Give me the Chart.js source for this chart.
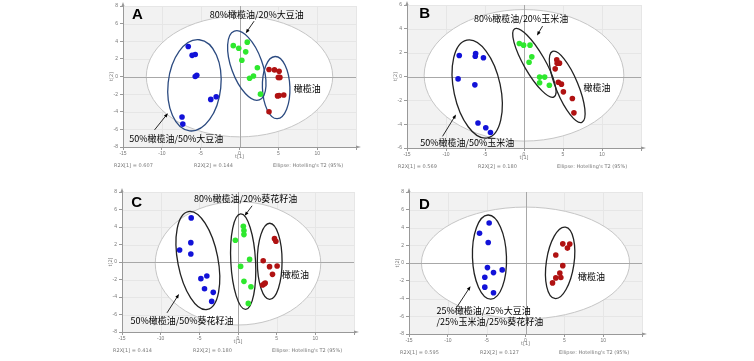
<!DOCTYPE html>
<html>
<head>
<meta charset="utf-8">
<script src="https://cdn.jsdelivr.net/npm/chart.js@4/dist/chart.umd.min.js"></script>
<style>
body { margin: 0; background: #fff; width: 754px; height: 361px; position: relative; overflow: hidden; }
canvas { position: absolute; }
</style>
</head>
<body>
<canvas id="chartA" width="271" height="172" style="left:97px;top:1px"></canvas>
<canvas id="chartB" width="272" height="174" style="left:381px;top:0px"></canvas>
<canvas id="chartC" width="270" height="171" style="left:96px;top:187px"></canvas>
<canvas id="chartD" width="271" height="173" style="left:383px;top:187px"></canvas>
<script>
/*------------------------------------------ scores (t[1], t[2]) ------------------------------------------*/
const aBlue = [[-6.6,3.4],[-6.1,2.4],[-5.7,2.5],[-5.7,0.0],[-5.5,0.15],[-3.7,-2.6],[-3.0,-2.3],[-7.4,-4.6],[-7.3,-5.4]]
const aGreen = [[-0.8,3.5],[-0.1,3.2],[1.0,3.9],[0.8,2.8],[0.3,1.85],[2.3,1.0],[1.8,0.05],[1.3,-0.2],[2.7,-2.0]]
const aRed = [[3.8,0.8],[4.5,0.75],[5.1,0.6],[5.0,-0.1],[5.2,-0.1],[4.9,-2.2],[5.1,-2.15],[5.7,-2.1],[3.8,-4.0]]

const bBlue = [[-8.3,1.76],[-6.2,1.93],[-6.25,1.7],[-5.2,1.57],[-8.45,-0.2],[-6.3,-0.7],[-5.9,-3.9],[-4.9,-4.3],[-4.3,-4.7]]
const bGreen = [[-0.6,2.77],[-0.05,2.63],[0.77,2.63],[1.0,1.65],[0.65,1.2],[2.0,-0.05],[2.65,-0.05],[2.0,-0.53],[3.25,-0.73]]
const bRed = [[4.2,1.4],[4.55,1.12],[4.25,1.12],[4.0,0.64],[4.4,-0.48],[4.8,-0.64],[5.05,-1.29],[6.2,-1.85],[6.4,-3.05]]

const cBlue = [[-6.05,5.04],[-6.1,2.21],[-7.55,1.37],[-6.1,0.92],[-4.03,-1.6],[-4.8,-1.9],[-4.33,-3.05],[-3.2,-3.47],[-3.4,-4.5]]
const cGreen = [[0.69,4.08],[0.77,3.59],[0.77,3.13],[-0.34,2.48],[1.5,0.3],[0.34,-0.5],[0.77,-2.21],[1.67,-2.82],[1.33,-4.73]]
const cRed = [[4.72,2.67],[4.9,2.37],[3.26,0.15],[4.08,-0.53],[5.06,-0.46],[4.46,-1.41],[3.18,-2.63],[3.52,-2.4],[3.4,-2.5]]

const dBlue = [[-4.68,4.5],[-5.92,3.36],[-4.8,2.31],[-4.9,-0.52],[-4.12,-1.08],[-3.0,-0.78],[-5.24,-1.6],[-5.24,-2.72],[-4.12,-3.36]]
const dRed = [[4.8,2.16],[5.7,2.13],[5.4,1.68],[3.9,0.9],[4.8,-0.3],[4.42,-1.12],[4.55,-1.64],[3.9,-1.68],[3.48,-2.24]]

// axis ranges and ticks
const xRange = [-15, 15]
const yRangeA = [-8, 8]
const yRangeB = [-6, 6]
const yRangeC = [-8, 8]
const yRangeD = [-8, 8]

// R2X values
const r2xA = ["0.607", "0.144"]
const r2xB = ["0.569", "0.180"]
const r2xC = ["0.414", "0.180"]
const r2xD = ["0.595", "0.127"]

// ellipses: [centre t1, centre t2, half width (t1 units), half height (t2 units), tilt deg]
const hotA = [0, 0, 12.0, 6.85, 0]
const hotB = [0, 0.1, 12.8, 5.52, 0]
const hotC = [0, -0.15, 10.7, 7.05, 0]
const hotD = [0, 0, 13.4, 6.3, 0]
const groupsA = [[-5.8,-1.0,3.4,5.2,6],[0.94,1.25,2.0,4.15,-20],[4.72,-1.26,1.77,3.53,-2]]
const groupsB = [[-6.0,-1.05,3.0,4.19,-12],[1.33,1.15,1.35,3.3,-30],[5.54,-0.87,1.42,3.22,-22.5]]
const groupsC = [[-5.19,0.17,2.6,5.7,-11],[0.67,0.04,1.6,5.46,-3],[4.1,0.08,1.6,4.35,0]]
const groupsD = [[-4.64,0.67,2.19,4.74,-2],[4.46,0.02,1.78,4.06,8.5]]

/*------------------------------------------ annotations ------------------------------------------*/
const panels = {
    chartA: {
        letter: ["A", -13.15, 7.05], hot: hotA, groups: groupsA, groupColor: "#2b4a80", r2x: r2xA,
        texts: [["80%橄榄油/20%大豆油", 2.22, 7.05, "center"], ["橄榄油", 8.73, -1.33, "center"], ["50%橄榄油/50%大豆油", -8.15, -7.01, "center"]],
        arrows: [[1.88, 6.28, 0.81, 4.92], [-10.94, -6.06, -9.22, -4.17]]
    },
    chartB: {
        letter: ["B", -12.72, 5.29], hot: hotB, groups: groupsB, groupColor: "#222", r2x: r2xB,
        texts: [["80%橄榄油/20%玉米油", -0.37, 4.85, "center"], ["橄榄油", 9.36, -0.92, "center"], ["50%橄榄油/50%玉米油", -7.27, -5.57, "center"]],
        arrows: [[2.38, 4.23, 1.67, 3.45], [-10.44, -5.02, -8.72, -3.19]]
    },
    chartC: {
        letter: ["C", -13.09, 6.8], hot: hotC, groups: groupsC, groupColor: "#222", r2x: r2xC,
        texts: [["80%橄榄油/20%葵花籽油", 0.99, 7.22, "center"], ["橄榄油", 7.42, -1.46, "center"], ["50%橄榄油/50%葵花籽油", -7.24, -6.65, "center"]],
        arrows: [[1.82, 6.42, 0.86, 5.28], [-9.18, -5.81, -7.63, -3.67]]
    },
    chartD: {
        letter: ["D", -13.02, 6.6], hot: hotD, groups: groupsD, groupColor: "#222", r2x: r2xD,
        texts: [["橄榄油", 8.5, -1.49, "center"], ["25%橄榄油/25%大豆油", -11.45, -5.39, "left"], ["/25%玉米油/25%葵花籽油", -11.45, -6.58, "left"]],
        arrows: [[-8.81, -4.94, -7.08, -2.62]]
    }
}

const CJK = '"Noto Sans CJK SC", "Noto Sans", sans-serif'

function ellipsePath(ctx, xs, ys, e) {
    let px = xs.getPixelForValue(e[0]), py = ys.getPixelForValue(e[1])
    let rx = Math.abs(xs.getPixelForValue(e[0] + e[2]) - px)
    let ry = Math.abs(ys.getPixelForValue(e[1] + e[3]) - py)
    ctx.beginPath()
    ctx.ellipse(px, py, rx, ry, e[4] * Math.PI / 180, 0, 2 * Math.PI)
}

function arrow(ctx, x1, y1, x2, y2) {
    let a = Math.atan2(y2 - y1, x2 - x1), h = 4.5
    ctx.beginPath()
    ctx.moveTo(x1, y1)
    ctx.lineTo(x2 - Math.cos(a) * 2, y2 - Math.sin(a) * 2)
    ctx.stroke()
    ctx.beginPath()
    ctx.moveTo(x2, y2)
    ctx.lineTo(x2 - h * Math.cos(a - 0.38), y2 - h * Math.sin(a - 0.38))
    ctx.lineTo(x2 - h * Math.cos(a + 0.38), y2 - h * Math.sin(a + 0.38))
    ctx.closePath()
    ctx.fill()
}

const pcaPlugin = {
    id: "pca",
    beforeDraw(chart) {
        let p = panels[chart.canvas.id], ctx = chart.ctx, ca = chart.chartArea
        let xs = chart.scales.x, ys = chart.scales.y
        ctx.save()
        ctx.fillStyle = "#f2f2f2"
        ctx.fillRect(ca.left, ca.top, ca.right - ca.left, ca.bottom - ca.top)
        // faint grid
        ctx.strokeStyle = "#e6e6e6"
        ctx.lineWidth = 1
        xs.ticks.forEach(t => {
            let x = Math.round(xs.getPixelForValue(t.value)) + 0.5
            ctx.beginPath(); ctx.moveTo(x, ca.top); ctx.lineTo(x, ca.bottom); ctx.stroke()
        })
        ys.ticks.forEach(t => {
            let y = Math.round(ys.getPixelForValue(t.value)) + 0.5
            ctx.beginPath(); ctx.moveTo(ca.left, y); ctx.lineTo(ca.right, y); ctx.stroke()
        })
        // Hotelling T2 ellipse
        ellipsePath(ctx, xs, ys, p.hot)
        ctx.fillStyle = "#fff"
        ctx.fill()
        ctx.strokeStyle = "#c6c6c6"
        ctx.lineWidth = 1
        ctx.stroke()
        // zero lines
        ctx.strokeStyle = "#a8a8a8"
        let x0 = Math.round(xs.getPixelForValue(0)) + 0.5, y0 = Math.round(ys.getPixelForValue(0)) + 0.5
        ctx.beginPath(); ctx.moveTo(x0, ca.top); ctx.lineTo(x0, ca.bottom); ctx.stroke()
        ctx.beginPath(); ctx.moveTo(ca.left, y0); ctx.lineTo(ca.right, y0); ctx.stroke()
        ctx.restore()
    },
    beforeDatasetsDraw(chart) {
        let p = panels[chart.canvas.id], ctx = chart.ctx
        ctx.save()
        ctx.strokeStyle = p.groupColor
        ctx.lineWidth = 1.3
        p.groups.forEach(e => { ellipsePath(ctx, chart.scales.x, chart.scales.y, e); ctx.stroke() })
        ctx.restore()
    },
    afterDraw(chart) {
        let p = panels[chart.canvas.id], ctx = chart.ctx, ca = chart.chartArea
        let xs = chart.scales.x, ys = chart.scales.y
        ctx.save()
        ctx.fillStyle = "#000"
        ctx.strokeStyle = "#111"
        ctx.lineWidth = 0.9
        ctx.textBaseline = "middle"
        ctx.textAlign = "center"
        ctx.font = 'bold 15px "Liberation Sans", Arial, sans-serif'
        ctx.fillText(p.letter[0], xs.getPixelForValue(p.letter[1]), ys.getPixelForValue(p.letter[2]))
        ctx.font = "9px " + CJK
        p.texts.forEach(t => {
            ctx.textAlign = t[3]
            ctx.fillText(t[0], xs.getPixelForValue(t[1]), ys.getPixelForValue(t[2]))
        })
        p.arrows.forEach(a => arrow(ctx, xs.getPixelForValue(a[0]), ys.getPixelForValue(a[1]), xs.getPixelForValue(a[2]), ys.getPixelForValue(a[3])))
        // axis titles and footer
        ctx.fillStyle = "#777"
        ctx.font = '5px "DejaVu Sans", sans-serif'
        ctx.textAlign = "center"
        ctx.fillText("t[1]", (ca.left + ca.right) / 2, ca.bottom + 10)
        ctx.save()
        ctx.translate(ca.left - 11, (ca.top + ca.bottom) / 2)
        ctx.rotate(-Math.PI / 2)
        ctx.fillText("t[2]", 0, 0)
        ctx.restore()
        ctx.textAlign = "left"
        ctx.fillText("R2X[1] = " + p.r2x[0], ca.left - 9, ca.bottom + 18.5)
        ctx.fillText("R2X[2] = " + p.r2x[1], ca.left + 71, ca.bottom + 18.5)
        ctx.fillText("Ellipse: Hotelling's T2 (95%)", ca.left + 150, ca.bottom + 18.5)
        // little arrow heads at axis ends
        ctx.fillStyle = "#999"
        ctx.beginPath()
        ctx.moveTo(ca.right + 5, ca.bottom); ctx.lineTo(ca.right, ca.bottom - 1.5); ctx.lineTo(ca.right, ca.bottom + 1.5)
        ctx.fill()
        ctx.beginPath()
        ctx.moveTo(ca.left, ca.top - 4); ctx.lineTo(ca.left - 1.5, ca.top); ctx.lineTo(ca.left + 1.5, ca.top)
        ctx.fill()
        ctx.restore()
    }
}

function toPts(arr) {
    return arr.map(p => ({ x: p[0], y: p[1] }))
}

function makeSet(arr, color) {
    return { data: toPts(arr), backgroundColor: color, borderColor: color, borderWidth: 0, pointRadius: 2.8 }
}

function makeChart(id, sets, yRange) {
    return new Chart(document.getElementById(id), {
        type: "scatter",
        data: { datasets: sets },
        options: {
            responsive: false,
            animation: false,
            layout: { padding: { top: 5, right: 12, left: 0, bottom: 0 } },
            plugins: { legend: { display: false }, tooltip: { enabled: false } },
            scales: {
                x: {
                    min: xRange[0], max: xRange[1],
                    ticks: { stepSize: 5, color: "#777", font: { size: 5 }, padding: 1, maxRotation: 0,
                        callback: v => v == xRange[1] ? "" : v },
                    grid: { drawOnChartArea: false, tickLength: 3, color: "#999" },
                    border: { color: "#999" },
                    afterFit: s => { s.height = 26 }
                },
                y: {
                    min: yRange[0], max: yRange[1],
                    ticks: { stepSize: 2, color: "#777", font: { size: 5 }, padding: 2 },
                    grid: { drawOnChartArea: false, tickLength: 3, color: "#999" },
                    border: { color: "#999" },
                    afterFit: s => { s.width = 26 }
                }
            }
        },
        plugins: [pcaPlugin]
    })
}

const BLUE = "#1212d8", GREEN = "#2ee82e", RED = "#b01212"

makeChart("chartA", [makeSet(aBlue, BLUE), makeSet(aGreen, GREEN), makeSet(aRed, RED)], yRangeA)
makeChart("chartB", [makeSet(bBlue, BLUE), makeSet(bGreen, GREEN), makeSet(bRed, RED)], yRangeB)
makeChart("chartC", [makeSet(cBlue, BLUE), makeSet(cGreen, GREEN), makeSet(cRed, RED)], yRangeC)
makeChart("chartD", [makeSet(dBlue, BLUE), makeSet(dRed, RED)], yRangeD)
</script>
</body>
</html>
